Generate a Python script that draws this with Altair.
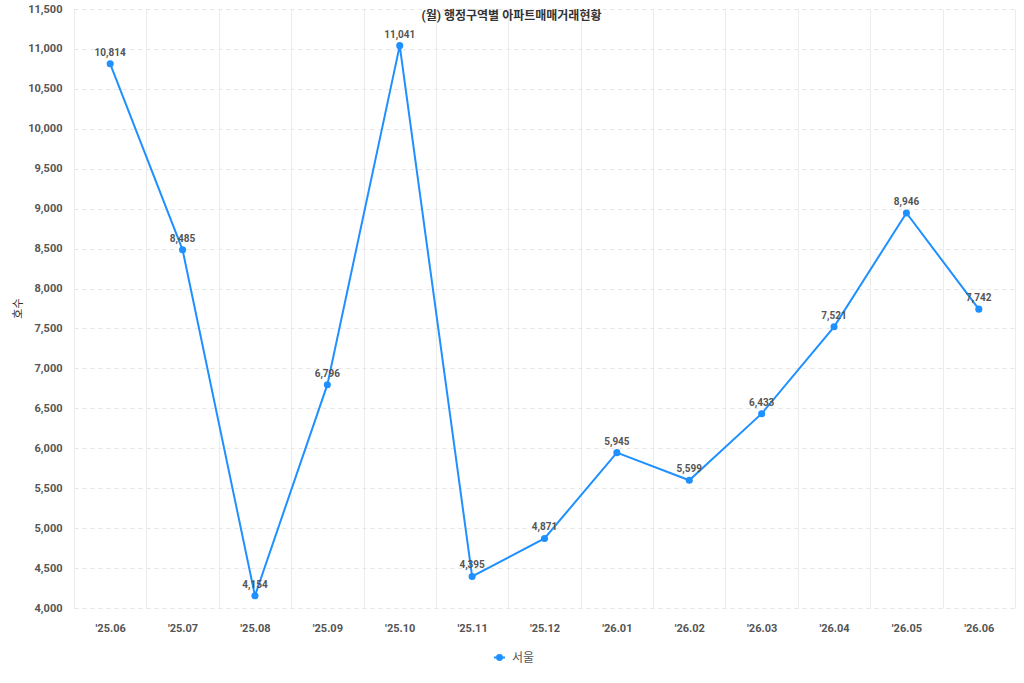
import altair as alt
import pandas as pd

months = ["'25.06", "'25.07", "'25.08", "'25.09", "'25.10", "'25.11", "'25.12",
          "'26.01", "'26.02", "'26.03", "'26.04", "'26.05", "'26.06"]
seoul = [10814, 8485, 4154, 6796, 11041, 4395, 4871, 5945, 5599, 6433, 7521, 8946, 7742]
series_name = "서울"
title_text = "(월) 행정구역별 아파트매매거래현황"
y_title = "호수"

df = pd.DataFrame({"month": months, "value": seoul, "series": [series_name] * len(months)})

FONT = "Roboto, 'Noto Sans CJK KR', sans-serif"
BLUE = "#1E90FF"

x_enc = alt.X("month:N", sort=months, title=None,
              scale=alt.Scale(type="band", paddingInner=0, paddingOuter=0),
              axis=alt.Axis(tickBand="extent", grid=True, gridColor="#ececec", gridWidth=1,
                            ticks=False, domain=False, labelAngle=0, labelPadding=14,
                            labelFontSize=11, labelFontWeight="bold", labelColor="#555555",
                            labelFont=FONT))
y_enc = alt.Y("value:Q", title=y_title,
              scale=alt.Scale(domain=[4000, 11500], nice=False, zero=False),
              axis=alt.Axis(values=list(range(4000, 11501, 500)), format=",.0f",
                            grid=True, gridColor="#e6e6e6", gridDash=[4, 4],
                            ticks=False, domain=False, labelPadding=12,
                            labelFontSize=11, labelFontWeight="bold", labelColor="#555555",
                            labelFont=FONT, titleFont=FONT, titleFontSize=11,
                            titleFontWeight="normal", titleColor="#333333",
                            titleX=-51, titleY=299, titleAngle=-90))

color_enc = alt.Color("series:N", title=None,
                      scale=alt.Scale(domain=[series_name], range=[BLUE]),
                      legend=alt.Legend(orient="none", legendX=419, legendY=642,
                                        symbolType="M-1,0H1M0.45,0A0.45,0.45,0,1,1,-0.45,0A0.45,0.45,0,1,1,0.45,0Z",
                                        symbolSize=120, symbolStrokeWidth=2,
                                        symbolFillColor=BLUE, symbolStrokeColor=BLUE,
                                        labelFont=FONT, labelFontSize=12, labelColor="#555555",
                                        labelOffset=6))

base = alt.Chart(df)
line = base.mark_line(strokeWidth=2).encode(x=x_enc, y=y_enc, color=color_enc)
pts = base.mark_point(filled=True, size=50, opacity=1).encode(x=x_enc, y=y_enc, color=alt.Color("series:N", legend=None, scale=alt.Scale(domain=[series_name], range=[BLUE])))
labels = base.mark_text(dy=-11, fontSize=10, fontWeight="bold", color="#555555", font=FONT).encode(
    x=x_enc, y=y_enc, text=alt.Text("value:Q", format=",.0f"))

chart = (line + pts + labels).properties(
    width=941, height=599,
    padding={"left": 74, "top": 9, "right": 9, "bottom": 75},
    autosize=alt.AutoSizeParams(type="none"),
    title=alt.TitleParams(title_text, font=FONT, fontSize=12, fontWeight="bold", color="#333333",
                          anchor="middle", frame="group", dx=-33, offset=-20, baseline="top"),
).configure_view(stroke=None)

chart.save("out.html", embed_options={"renderer": "svg", "actions": False})
